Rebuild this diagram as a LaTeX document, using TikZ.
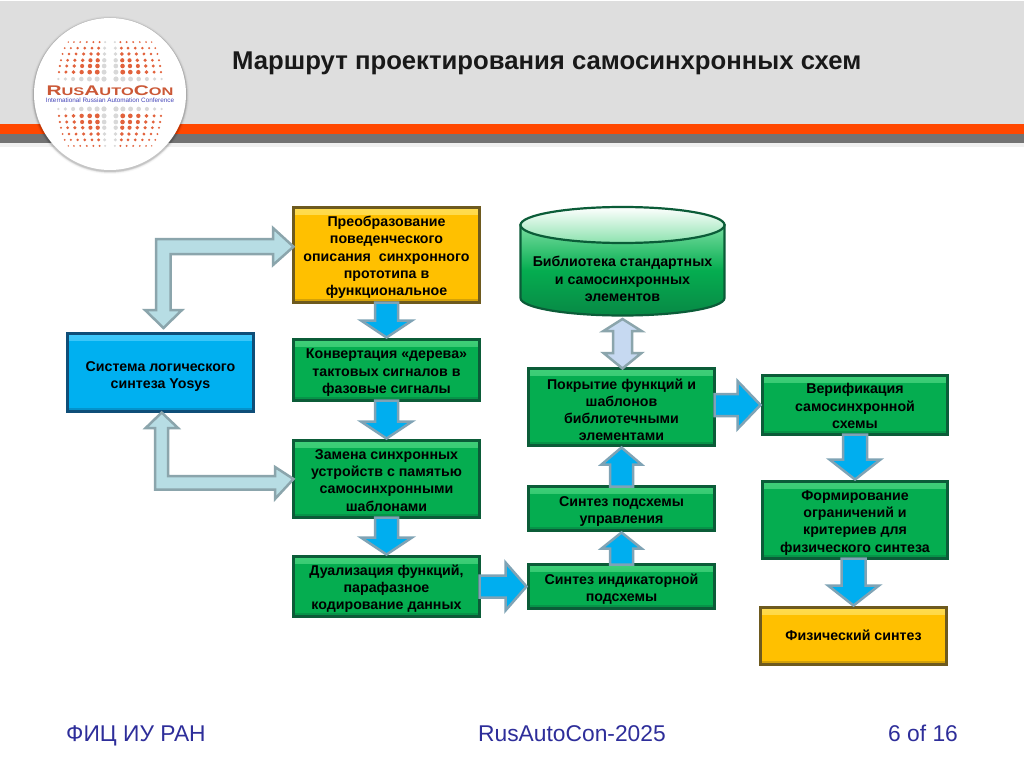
\documentclass[tikz,border=0pt]{standalone}
\usepackage{fontspec}
\setmainfont{Liberation Sans}
\usetikzlibrary{calc}
\definecolor{grn}{HTML}{05AD50}
\definecolor{grnD}{HTML}{0B5C38}
\definecolor{grnL}{HTML}{3FCF78}
\definecolor{yel}{HTML}{FFC000}
\definecolor{yelD}{HTML}{6E5A1E}
\definecolor{yelL}{HTML}{FFDC50}
\definecolor{blu}{HTML}{00B0F0}
\definecolor{bluD}{HTML}{0F4E78}
\definecolor{bluL}{HTML}{40C8FA}
\definecolor{arrB}{HTML}{00AEEF}
\definecolor{arrE}{HTML}{7FA3B5}
\definecolor{arrL}{HTML}{B7DDE4}
\definecolor{arrLE}{HTML}{8BA5AC}
\definecolor{arrP}{HTML}{C6D9F1}
\definecolor{dotc}{HTML}{E2623C}
\definecolor{dotg}{HTML}{D8D8D8}
\definecolor{footc}{HTML}{2E2E9A}
\newcommand{\bt}[2][2.7]{\raisebox{-#1pt}[\height][\depth]{\begin{tabular}{@{}c@{}}#2\end{tabular}}}
\tikzset{
  x=1pt,y=-1pt,
  stepbox/.style n args={4}{rectangle,inner sep=0pt,outer sep=0pt,
    font=\fontsize{14.2}{17.3}\selectfont\bfseries,
    fill=#1,draw=#2,line width=3pt,
    path picture={
      \shade[top color=#3,bottom color=#1] (path picture bounding box.north west) rectangle ([yshift=-7pt]path picture bounding box.north east);
      \fill[#2,opacity=.3] ([yshift=4pt]path picture bounding box.south west) rectangle (path picture bounding box.south east);
    }},
  greenbox/.style={stepbox={grn}{grnD}{grnL}{}},
  yellowbox/.style={stepbox={yel}{yelD}{yelL}{}},
  bluebox/.style={stepbox={blu}{bluD}{bluL}{}},
  flowarrow/.style={fill=arrB,draw=arrE,line width=2.5pt,line join=miter},
  sidearrow/.style={fill=arrL,draw=arrLE,line width=2.5pt,line join=miter},
  libarrow/.style={fill=arrP,draw=arrLE,line width=2.5pt,line join=miter},
  foot/.style={font=\fontsize{22.8}{26}\selectfont,text=footc,anchor=base west,inner sep=0pt},
}
% #1 style, #2 from, #3 to, #4 half shaft, #5 half head, #6 head length
\newcommand{\blockarrow}[6]{%
  \coordinate (T) at ($(#3)!2pt!(#2)$);
  \coordinate (H) at ($(T)!#6pt!(#2)$);
  \draw[#1] ($(#2)!#4pt!90:(T)$) -- ($(H)!#4pt!90:(T)$) -- ($(H)!#5pt!90:(T)$) -- (T)
    -- ($(H)!#5pt!-90:(T)$) -- ($(H)!#4pt!-90:(T)$) -- ($(#2)!#4pt!-90:(T)$) -- cycle;}
\begin{document}
\begin{tikzpicture}
\useasboundingbox (0,0) rectangle (1024,767);
\fill[white] (0,0) rectangle (1024,767);
% header
\fill[black!13] (0,1) rectangle (1024,124);
\fill[black!6] (0,143) rectangle (1024,147);
\fill[black!55] (0,134) rectangle (1024,143);
\fill[orange!30!red!85!yellow] (0,124) rectangle (1024,134);
% logo
\foreach \r/\o in {79/.03,78/.05,77.5/.07,77/.09}{\fill[black,opacity=\o] (110,95) circle (\r);}
\fill[white] (110,94) circle (76);
\foreach \lat in {15.5,23,30,37,45.6,55,68}{
  \foreach \lon in {6,13,21,30,40,51,64}{
    \pgfmathsetmacro{\k}{1-0.2*(\lat/68)^2}
    \pgfmathsetmacro{\dx}{58*sin(\lon)*\k}
    \pgfmathsetmacro{\dy}{56*sin(\lat)}
    \pgfmathsetmacro{\rad}{0.6+2.1*cos(\lon*1.1)*cos(\lat*1.1)}
    \pgfmathtruncatemacro{\grey}{(\lat<16)||(\lon<8)?1:0}
    \ifnum\grey=1 \def\cc{dotg}\else\def\cc{dotc}\fi
    \foreach \sx in {-1,1}{\foreach \sy in {-1,1}{
      \fill[\cc] (110+\sx*\dx,94+\sy*\dy) circle (\rad);
    }}
  }
}
\node[inner sep=0pt,text=dotc!90!black,font=\fontsize{14}{14}\selectfont\bfseries] (logoname) at (110,90.5)
  {\scalebox{1.49}[1]{R{\fontsize{11}{11}\selectfont US}A{\fontsize{11}{11}\selectfont UTO}C{\fontsize{11}{11}\selectfont ON}}};
\node[inner sep=0pt,text=blue!45!gray,font=\fontsize{6.35}{7}\selectfont] (logosub) at (110,100) {International Russian Automation Conference};
% title and footer
\node[inner sep=0pt,anchor=base west,font=\fontsize{25.7}{30}\selectfont\bfseries,text=black!90] (title) at (232,70) {Маршрут проектирования самосинхронных схем};
\node[foot] (f1) at (66,741) {ФИЦ ИУ РАН};
\node[foot] (f2) at (478,741) {RusAutoCon-2025};
\node[foot] (f3) at (888,741) {6 of 16};
% boxes
\node[yellowbox,minimum width=186,minimum height=95] (a1) at (386.5,255) {\bt{Преобразование\\поведенческого\\описания\ \ синхронного\\прототипа в\\функциональное}};
\node[greenbox,minimum width=186,minimum height=61] (a2) at (386.5,370) {\bt{Конвертация «дерева»\\тактовых сигналов в\\фазовые сигналы}};
\node[greenbox,minimum width=186,minimum height=77] (a3) at (386.5,479) {\bt{Замена синхронных\\устройств с памятью\\самосинхронными\\шаблонами}};
\node[greenbox,minimum width=186,minimum height=60] (a4) at (386.5,586.5) {\bt{Дуализация функций,\\парафазное\\кодирование данных}};
\node[bluebox,minimum width=186,minimum height=78] (sys) at (160.5,372.5) {\bt[4]{Система логического\\синтеза Yosys}};
\node[greenbox,minimum width=186,minimum height=77] (b3) at (621.5,407) {\bt[4.5]{Покрытие функций и\\шаблонов\\библиотечными\\элементами}};
\node[greenbox,minimum width=186,minimum height=44] (b2) at (621.5,508.5) {\bt{Синтез подсхемы\\управления}};
\node[greenbox,minimum width=186,minimum height=44] (b1) at (621.5,586.5) {\bt{Синтез индикаторной\\подсхемы}};
\node[greenbox,minimum width=185,minimum height=59] (c1) at (855,405) {\bt{Верификация\\самосинхронной\\схемы}};
\node[greenbox,minimum width=185,minimum height=77] (c2) at (855,520) {\bt{Формирование\\ограничений и\\критериев для\\физического синтеза}};
\node[yellowbox,minimum width=186,minimum height=57] (c3) at (853.5,636) {\bt[1]{Физический синтез}};
% library cylinder
\node[minimum width=205,minimum height=110,inner sep=0pt,outer sep=0pt] (lib) at (622.5,262) {};
\draw[draw=grnD,line width=2.2pt,top color=grnL!70!white,bottom color=grnD!45!grn,middle color=grn]
  (520.5,225) -- (520.5,298) arc[start angle=180,end angle=0,x radius=102,y radius=17.5] -- (724.5,225) -- cycle;
\draw[draw=grnD,line width=2.2pt,top color=white,bottom color=grnL!60!white]
  (622.5,225) ellipse[x radius=102,y radius=18];
\node[inner sep=0pt,font=\fontsize{14.2}{17.3}\selectfont\bfseries] (libtext) at (622.5,278) {\bt{Библиотека стандартных\\и самосинхронных\\элементов}};
% flow arrows
\blockarrow{flowarrow}{a1.south}{a2.north}{11.5}{25.5}{17}
\blockarrow{flowarrow}{a2.south}{a3.north}{11.5}{25.5}{17}
\blockarrow{flowarrow}{a3.south}{a4.north}{11.5}{25.5}{17}
\blockarrow{flowarrow}{a4.east}{b1.west}{11}{24}{21}
\blockarrow{flowarrow}{b1.north}{b2.south}{11.5}{20}{16}
\blockarrow{flowarrow}{b2.north}{b3.south}{11.5}{20}{17}
\coordinate (b3out) at (b3.east |- c1.west);
\blockarrow{flowarrow}{b3out}{c1.west}{11}{24}{23}
\blockarrow{flowarrow}{c1.south}{c2.north}{12}{25.5}{20}
\coordinate (c2in) at (c2.south -| c3.north);
\blockarrow{flowarrow}{c2in}{c3.north}{12}{25.5}{20}
% library double arrow
\coordinate (ltop) at ($(lib.south)+(0,2)$);
\coordinate (lbot) at (lib.south |- b3.north);
\draw[libarrow] (ltop) -- (641.5,331) -- (632,331) -- (632,353) -- (641.5,353) -- (lbot)
  -- (603.5,353) -- (613,353) -- (613,331) -- (603.5,331) -- cycle;
% elbow side arrows
\coordinate (upT) at (163.5,328);
\path (a1.west) ++(0,-8.3) coordinate (a1in);
\draw[sidearrow] (upT) -- (182,310) -- (170.5,310) -- (170.5,254) -- (273,254) -- (273,265) -- (a1in)
  -- (273,228) -- (273,239) -- (156,239) -- (156,310) -- (145,310) -- cycle;
\coordinate (dnT) at (161.7,412.5);
\draw[sidearrow] (dnT) -- (178,428) -- (168,428) -- (168,476) -- (275,476) -- (275,467) -- (a3.west)
  -- (275,499) -- (275,489.5) -- (155,489.5) -- (155,428) -- (145.7,428) -- cycle;
\end{tikzpicture}
\end{document}
